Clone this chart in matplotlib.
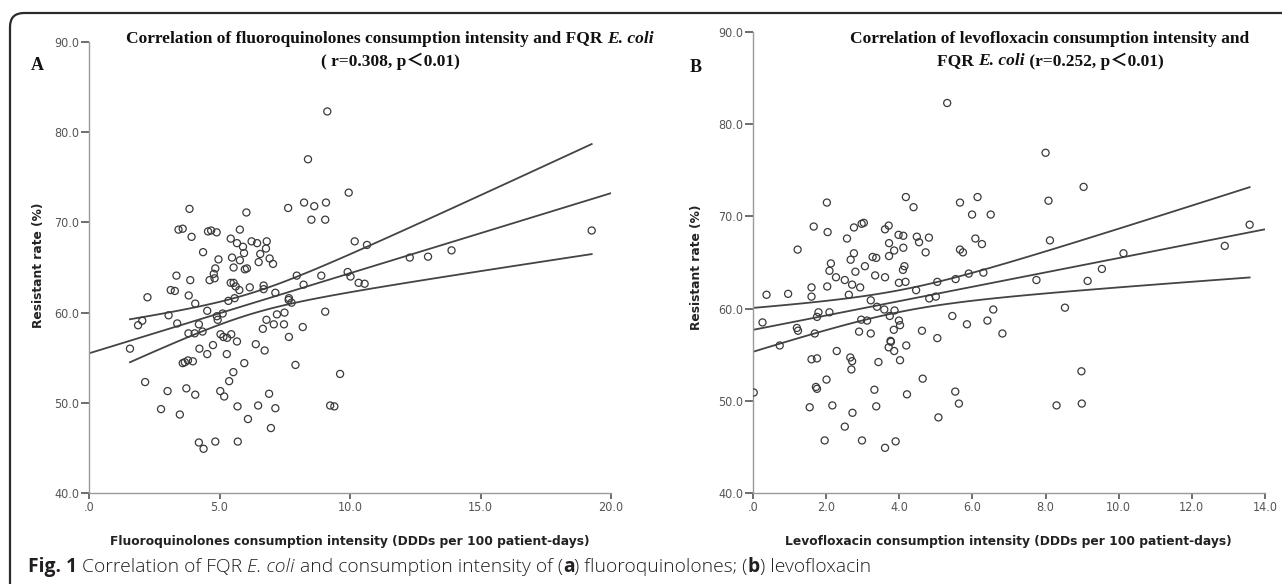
import matplotlib
matplotlib.use("Agg")
import matplotlib.pyplot as plt
import numpy as np
from matplotlib.patches import FancyBboxPatch
from matplotlib.transforms import IdentityTransform

# Panel A: fluoroquinolones consumption (DDDs / 100 patient-days) vs FQR E. coli rate (%)
fq_x = [9.13, 8.39, 9.95, 8.24, 8.63, 9.08, 8.52, 9.05, 7.63, 3.85, 6.03, 3.43, 3.59, 3.93,
        4.56, 4.68, 4.89, 5.78, 4.37, 5.43, 5.67, 5.90, 5.94, 6.23, 6.44, 6.81, 6.78, 6.56,
        6.92, 5.48, 5.78, 6.50, 7.05, 4.96, 4.84, 5.54, 5.97, 6.05, 4.78, 3.35, 3.88, 4.62,
        4.81, 5.43, 5.54, 5.62, 6.16, 6.69, 6.69, 7.14, 3.13, 3.29, 3.82, 2.24, 7.66, 7.96,
        8.22, 8.90, 9.91, 10.02, 10.33, 10.56, 10.18, 10.65, 12.29, 12.99, 13.89, 19.26,
        1.57, 1.88, 2.04, 3.05, 3.38, 4.07, 4.21, 3.81, 4.05, 4.35, 4.53, 4.90, 4.93, 5.12,
        5.34, 5.58, 5.76, 5.04, 5.15, 5.29, 5.45, 5.67, 4.23, 4.53, 4.75, 5.28, 3.59, 3.67,
        3.79, 3.98, 5.95, 5.53, 5.37, 2.15, 3.01, 3.73, 4.07, 5.03, 5.18, 2.76, 3.48, 5.69,
        6.48, 6.90, 7.14, 6.09, 6.97, 4.21, 4.39, 4.84, 5.70, 6.39, 6.73, 6.66, 6.80, 7.08,
        7.20, 7.49, 7.47, 7.66, 7.65, 7.76, 8.19, 7.91, 9.05, 9.62, 9.24, 9.40]
fq_y = [82.3, 77.0, 73.3, 72.2, 71.8, 72.2, 70.3, 70.3, 71.6, 71.5, 71.1, 69.2, 69.3, 68.4,
        69.0, 69.1, 68.9, 69.2, 66.7, 68.2, 67.7, 67.3, 66.6, 67.9, 67.7, 67.9, 67.1, 66.5,
        66.0, 66.1, 65.8, 65.6, 65.4, 65.9, 64.9, 65.0, 64.8, 64.9, 64.3, 64.1, 63.6, 63.6,
        63.8, 63.3, 63.3, 62.9, 62.8, 63.0, 62.6, 62.2, 62.5, 62.4, 61.9, 61.7, 61.6, 64.1,
        63.1, 64.1, 64.5, 64.0, 63.3, 63.2, 67.9, 67.5, 66.1, 66.2, 66.9, 69.1,
        56.0, 58.6, 59.1, 59.7, 58.8, 61.0, 58.7, 57.7, 57.7, 57.9, 60.2, 59.6, 59.2, 59.9,
        61.3, 61.6, 62.5, 57.6, 57.3, 57.2, 57.6, 56.8, 56.0, 55.4, 56.4, 55.4, 54.4, 54.5,
        54.7, 54.6, 54.4, 53.4, 52.4, 52.3, 51.3, 51.6, 50.9, 51.3, 50.7, 49.3, 48.7, 49.6,
        49.7, 51.0, 49.4, 48.2, 47.2, 45.6, 44.9, 45.7, 45.7, 56.5, 55.8, 58.2, 59.2, 58.7,
        59.8, 60.0, 58.7, 57.3, 61.4, 61.1, 58.4, 54.2, 60.1, 53.2, 49.7, 49.6]

# Panel B: levofloxacin consumption vs FQR E. coli rate (%)
levo_x = [5.31, 8.00, 9.04, 8.08, 4.18, 6.14, 5.66, 2.02, 4.39, 5.99, 6.50, 8.12, 13.58, 12.90,
          10.13, 9.54, 7.75, 9.15, 1.66, 2.04, 1.22, 2.76, 2.97, 3.03, 2.57, 3.61, 3.71, 3.98,
          4.11, 3.72, 3.86, 3.72, 4.11, 4.48, 4.54, 4.81, 4.72, 2.76, 2.67, 3.27, 3.37, 3.06,
          2.13, 2.09, 2.27, 2.51, 2.80, 2.71, 2.93, 3.34, 3.61, 4.14, 4.10, 3.99, 4.17, 4.46,
          5.04, 5.66, 5.74, 6.08, 6.26, 5.54, 5.90, 6.30, 2.03, 1.60, 1.60, 0.37, 0.96, 2.62,
          3.22, 4.82, 5.00, 0.02, 0.26, 0.73, 1.20, 1.23, 1.79, 1.75, 1.69, 1.60, 1.75, 1.72,
          1.75, 1.55, 2.01, 2.09, 2.17, 1.96, 2.29, 2.51, 2.66, 2.71, 2.69, 2.72, 2.98, 2.96,
          3.12, 2.90, 3.22, 3.39, 3.43, 3.32, 3.37, 3.61, 3.59, 3.74, 3.76, 3.77, 3.71, 3.86,
          3.85, 3.87, 3.90, 3.99, 4.02, 4.02, 4.19, 4.21, 4.64, 4.62, 5.04, 5.07, 5.45, 5.53,
          5.63, 5.85, 6.41, 6.57, 6.82, 8.53, 8.30, 8.98, 8.99]
levo_y = [82.3, 76.9, 73.2, 71.7, 72.1, 72.1, 71.5, 71.5, 71.0, 70.2, 70.2, 67.4, 69.1, 66.8,
          66.0, 64.3, 63.1, 63.0, 68.9, 68.3, 66.4, 68.8, 69.2, 69.3, 67.6, 68.6, 69.0, 68.0,
          67.9, 67.1, 66.3, 65.7, 66.6, 67.8, 67.2, 67.7, 66.1, 66.0, 65.3, 65.6, 65.5, 64.6,
          64.9, 64.1, 63.4, 63.1, 64.0, 62.6, 62.3, 63.6, 63.4, 64.6, 64.2, 62.8, 62.9, 62.0,
          62.9, 66.4, 66.1, 67.6, 67.0, 63.2, 63.8, 63.9, 62.4, 62.3, 61.3, 61.5, 61.6, 61.5,
          60.9, 61.1, 61.3, 50.9, 58.5, 56.0, 57.9, 57.6, 59.6, 59.1, 57.3, 54.5, 54.6, 51.5,
          51.3, 49.3, 52.3, 59.6, 49.5, 45.7, 55.4, 47.2, 54.7, 54.3, 53.4, 48.7, 45.7, 58.8,
          58.7, 57.5, 57.3, 60.2, 54.2, 51.2, 49.4, 44.9, 59.9, 59.2, 56.5, 56.4, 55.8, 55.4,
          57.7, 59.8, 45.6, 58.7, 58.2, 54.4, 56.0, 50.7, 52.4, 57.6, 56.8, 48.2, 59.2, 51.0,
          49.7, 58.3, 58.7, 59.9, 57.3, 60.1, 49.5, 53.2, 49.7]

fq_xticks = [0, 5, 10, 15, 20]
fq_xticklabels = [".0", "5.0", "10.0", "15.0", "20.0"]
levo_xticks = [0, 2, 4, 6, 8, 10, 12, 14]
levo_xticklabels = [".0", "2.0", "4.0", "6.0", "8.0", "10.0", "12.0", "14.0"]
yticks = [40, 50, 60, 70, 80, 90]
yticklabels = ["40.0", "50.0", "60.0", "70.0", "80.0", "90.0"]

T_CRIT = 1.98  # two-sided 95% t value for n ~ 135

W, H = 1282, 584
fig = plt.figure(figsize=(W / 100, H / 100), dpi=100)

SERIF = ["Liberation Serif", "DejaVu Serif", "Noto Sans CJK SC"]
NARROW = ["Liberation Sans Narrow", "DejaVu Sans"]
GREY = "#9a9a9a"


def ax_rect(left, right, top, bottom):
    return [left / W, 1 - bottom / H, (right - left) / W, (bottom - top) / H]


def scatter_panel(ax, x, y, xmax, xticks, xticklabels, xlabel):
    x = np.asarray(x)
    y = np.asarray(y)
    ax.scatter(x, y, s=26, facecolors="none", edgecolors="#3a3a3a", linewidths=0.9, zorder=3)
    # least squares fit with 95% CI of the mean
    slope, icpt = np.polyfit(x, y, 1)
    n = len(x)
    xm = x.mean()
    sxx = ((x - xm) ** 2).sum()
    s = np.sqrt(((y - (icpt + slope * x)) ** 2).sum() / (n - 2))
    xf = np.linspace(0, xmax, 100)
    ax.plot(xf, icpt + slope * xf, color="#444444", lw=1.3, zorder=2)
    xc = np.linspace(x.min(), x.max(), 100)
    half = T_CRIT * s * np.sqrt(1 / n + (xc - xm) ** 2 / sxx)
    ax.plot(xc, icpt + slope * xc + half, color="#444444", lw=1.3, zorder=2)
    ax.plot(xc, icpt + slope * xc - half, color="#444444", lw=1.3, zorder=2)

    ax.set_xlim(0, xmax)
    ax.set_ylim(40, 90)
    ax.set_xticks(xticks)
    ax.set_xticklabels(xticklabels)
    ax.set_yticks(yticks)
    ax.set_yticklabels(yticklabels)
    for sp in ["top", "right"]:
        ax.spines[sp].set_visible(False)
    for sp in ["left", "bottom"]:
        ax.spines[sp].set_color(GREY)
        ax.spines[sp].set_linewidth(1.0)
    ax.tick_params(direction="out", width=1.2, color="#555555",
                   labelcolor="#555555", labelsize=9, pad=1.5)
    ax.tick_params(axis="y", length=5.5)
    ax.tick_params(axis="x", length=4)
    for lab in ax.get_xticklabels() + ax.get_yticklabels():
        lab.set_family(NARROW)
        lab.set_stretch("condensed")
    ax.set_ylabel("Resistant rate (%)", fontsize=8.8, weight="bold", color="#222222")
    ax.set_xlabel(xlabel, fontsize=8.8, weight="bold", color="#222222")


axA = fig.add_axes(ax_rect(89, 611, 42, 493))
scatter_panel(axA, fq_x, fq_y, 20, fq_xticks, fq_xticklabels,
              "Fluoroquinolones consumption intensity (DDDs per 100 patient-days)")
axA.yaxis.set_label_coords(-0.084, 0.505)
axA.xaxis.set_label_coords(0.5, -0.093)

axB = fig.add_axes(ax_rect(753, 1265, 32, 493))
scatter_panel(axB, levo_x, levo_y, 14, levo_xticks, levo_xticklabels,
              "Levofloxacin consumption intensity (DDDs per 100 patient-days)")
axB.yaxis.set_label_coords(-0.098, 0.49)
axB.xaxis.set_label_coords(0.498, -0.091)

renderer = fig.canvas.get_renderer()


def rich_line(x_px, y_px, parts, size, family, ha="left", color="#111111"):
    # parts: (text, style, weight); y_px measured from the top
    arts = []
    widths = []
    for txt, style, weight in parts:
        t = fig.text(0, H - y_px, txt, fontsize=size, family=family, style=style,
                     weight=weight, va="center", ha="left", color=color,
                     transform=IdentityTransform())
        arts.append(t)
        widths.append(t.get_window_extent(renderer).width)
    total = sum(widths)
    x0 = x_px - total / 2 if ha == "center" else x_px
    for t, w in zip(arts, widths):
        t.set_x(x0)
        x0 += w


rich_line(390, 39, [("Correlation of fluoroquinolones consumption intensity and FQR ", "normal", "bold"),
                    ("E. coli", "italic", "bold")], 12.5, SERIF, ha="center")
rich_line(390, 61, [("( r=0.308, p\uff1c0.01)", "normal", "bold")], 12.5, SERIF, ha="center")
rich_line(1050, 39, [("Correlation of levofloxacin consumption intensity and", "normal", "bold")],
          12.5, SERIF, ha="center")
rich_line(1050, 61, [("FQR ", "normal", "bold"), ("E. coli", "italic", "bold"),
                     (" (r=0.252, p\uff1c0.01)", "normal", "bold")], 12.5, SERIF, ha="center")
rich_line(31, 65, [("A", "normal", "bold")], 13, SERIF)
rich_line(690, 67, [("B", "normal", "bold")], 13, SERIF)

CAP = ["Open Sans", "DejaVu Sans"]
rich_line(28, 567, [("Fig. 1", "normal", "bold"),
                    (" Correlation of FQR ", "normal", "light"),
                    ("E. coli", "italic", "light"),
                    (" and consumption intensity of (", "normal", "light"),
                    ("a", "normal", "bold"),
                    (") fluoroquinolones; (", "normal", "light"),
                    ("b", "normal", "bold"),
                    (") levofloxacin", "normal", "light")], 13.9, CAP, color="#231f20")

# rounded frame (right and bottom edges fall outside the picture)
frame = FancyBboxPatch((10, -40), 1320, H - 13 + 40,
                       boxstyle="round,pad=0,rounding_size=14",
                       fill=False, edgecolor="#2a2a2a", linewidth=1.6,
                       transform=IdentityTransform())
fig.add_artist(frame)

fig.savefig("out.png", dpi=100)
